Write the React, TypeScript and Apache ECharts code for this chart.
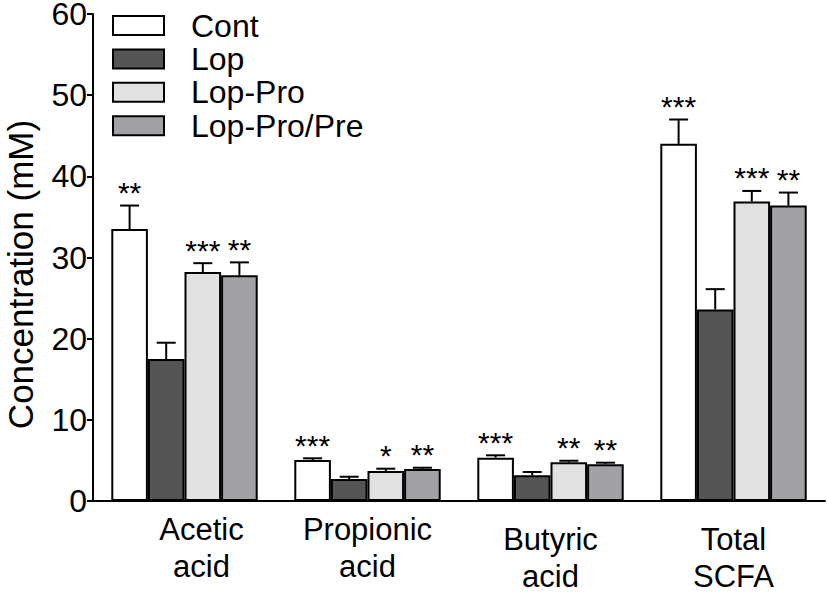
import React, { useEffect, useRef } from 'react';
import * as echarts from 'echarts';

const categories = ['Acetic\nacid', 'Propionic\nacid', 'Butyric\nacid', 'Total\nSCFA'];
const seriesNames = ['Cont', 'Lop', 'Lop-Pro', 'Lop-Pro/Pre'];

const contMean = [33.5, 5.05, 5.33, 44.0];
const contErr = [2.9, 0.21, 0.3, 3.0];
const lopMean = [17.5, 2.71, 3.17, 23.6];
const lopErr = [2.0, 0.28, 0.4, 2.5];
const proMean = [28.2, 3.7, 4.77, 36.9];
const proErr = [1.1, 0.28, 0.19, 1.3];
const preMean = [27.8, 3.94, 4.52, 36.4];
const preErr = [1.6, 0.16, 0.2, 1.6];

const contStars = ['**', '***', '***', '***'];
const lopStars = ['', '', '', ''];
const proStars = ['***', '*', '**', '***'];
const preStars = ['**', '**', '**', '**'];

const yTicks = { min: 0, max: 60, interval: 10 };

const FONT = "'Liberation Sans', Arial, Helvetica, sans-serif";

export default function App() {
  const ref = useRef<HTMLDivElement>(null);

  useEffect(() => {
    const chart = echarts.init(ref.current!, null, { renderer: 'svg' });

    const groups = [
      { name: seriesNames[0], mean: contMean, err: contErr, stars: contStars, color: '#ffffff' },
      { name: seriesNames[1], mean: lopMean, err: lopErr, stars: lopStars, color: '#555555' },
      { name: seriesNames[2], mean: proMean, err: proErr, stars: proStars, color: '#e1e1e1' },
      { name: seriesNames[3], mean: preMean, err: preErr, stars: preStars, color: '#a2a1a6' },
    ];

    const barSeries = groups.map((g) => ({
      type: 'bar',
      name: g.name,
      data: g.mean,
      barGap: '0%',
      barCategoryGap: '20%',
      z: 2,
      itemStyle: { color: g.color, borderColor: '#000', borderWidth: 2 },
    }));

    const errSeries = groups.map((g, gi) => ({
      type: 'custom',
      name: 'err-' + g.name,
      z: 3,
      data: g.mean.map((m, ci) => [ci, m, m + g.err[ci]]),
      encode: { x: 0, y: [1, 2] },
      renderItem: (params: any, api: any) => {
        const ci = api.value(0);
        const m = api.value(1);
        const top = api.value(2);
        const catW = api.size([1, 0])[0];
        const bw = (catW * 0.8) / 4;
        const base = api.coord([ci, m]);
        const cx = base[0] + (gi - 1.5) * bw;
        const yTop = api.coord([ci, top])[1];
        const capHalf = bw * 0.26;
        const star = g.stars[ci];
        const children: any[] = [
          {
            type: 'line',
            shape: { x1: cx, y1: base[1], x2: cx, y2: yTop },
            style: { stroke: '#000', lineWidth: 2 },
          },
          {
            type: 'line',
            shape: { x1: cx - capHalf, y1: yTop, x2: cx + capHalf, y2: yTop },
            style: { stroke: '#000', lineWidth: 2 },
          },
        ];
        if (star) {
          children.push({
            type: 'text',
            style: {
              text: star,
              x: cx,
              y: yTop - 13,
              align: 'center',
              verticalAlign: 'middle',
              fontSize: 30,
              fontFamily: FONT,
              fill: '#000',
            },
          });
        }
        return { type: 'group', children };
      },
    }));

    const l1 = { fontSize: 31, lineHeight: 40, fontFamily: FONT, color: '#000' };
    const l2 = { fontSize: 31, lineHeight: 34, fontFamily: FONT, color: '#000' };

    chart.setOption({
      animation: false,
      backgroundColor: '#fff',
      legend: {
        data: seriesNames,
        orient: 'vertical',
        left: 112,
        top: 9,
        padding: 0,
        itemGap: 0.4,
        itemWidth: 51,
        itemHeight: 19,
        icon: 'rect',
        itemStyle: { borderColor: '#000', borderWidth: 2 },
        textStyle: { fontSize: 32, lineHeight: 33, fontFamily: FONT, color: '#000', padding: [0, 0, 0, 22] },
      },
      grid: { left: 93, right: 2, top: 14, bottom: 92, containLabel: false, outerBoundsMode: 'none' },
      xAxis: {
        type: 'category',
        data: categories,
        axisTick: { show: false },
        axisLine: { show: true, lineStyle: { color: '#000', width: 2 } },
        axisLabel: {
          interval: 0,
          margin: 8,
          fontSize: 31,
          fontFamily: FONT,
          color: '#000',
          formatter: (v: string, i: number) => {
            const lines = v.split('\n');
            const pre = i === 0 ? 'a' : 'b';
            const body = `{${pre}1|${lines[0]}}\n{${pre}2|${lines[1]}}`;
            return i >= 2 ? `{sp|\u00a0}\n` + body : body;
          },
          rich: {
            a1: { ...l1, padding: [0, 0, 0, 34] },
            a2: { ...l2, padding: [0, 0, 0, 34] },
            b1: { ...l1 },
            b2: { ...l2 },
            sp: { fontSize: 1, lineHeight: 10 },
          },
        },
      },
      yAxis: {
        type: 'value',
        min: yTicks.min,
        max: yTicks.max,
        interval: yTicks.interval,
        name: 'Concentration (mM)',
        nameLocation: 'middle',
        nameGap: 56,
        nameTextStyle: {
          fontSize: 35,
          lineHeight: 34,
          fontFamily: FONT,
          color: '#000',
          padding: [0, 34, 0, 0],
        },
        splitLine: { show: false },
        axisLine: { show: true, lineStyle: { color: '#000', width: 2 } },
        axisTick: { show: true, length: 6, lineStyle: { color: '#000', width: 2 } },
        axisLabel: { fontSize: 32, lineHeight: 24, fontFamily: FONT, color: '#000', margin: 6 },
      },
      series: [...barSeries, ...errSeries],
    });

    return () => chart.dispose();
  }, []);

  return (
    <div
      ref={ref}
      style={{ position: 'absolute', left: 0, top: 0, width: 827, height: 593 }}
    />
  );
}
